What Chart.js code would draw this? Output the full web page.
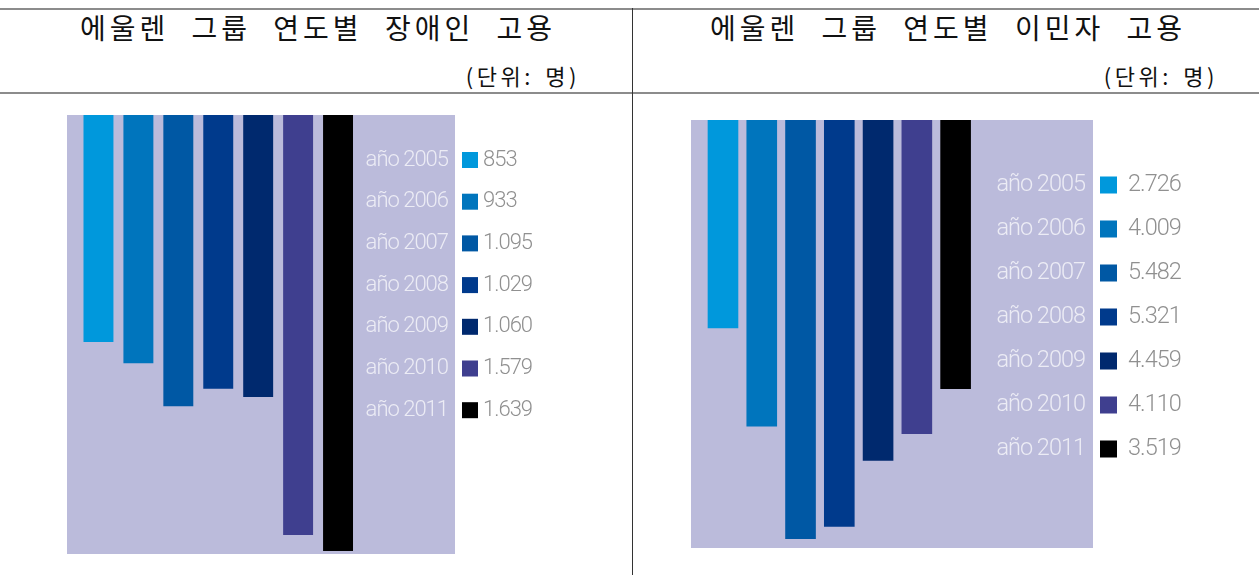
<!DOCTYPE html>
<html>
<head>
<meta charset="utf-8">
<script src="https://cdn.jsdelivr.net/npm/chart.js@4.4.1/dist/chart.umd.min.js"></script>
<style>
  body { margin: 0; background: #fff; width: 1259px; height: 575px; overflow: hidden; position: relative; font-family: "Noto Sans CJK KR", sans-serif; }
  .hline { position: absolute; left: 0; width: 1259px; height: 2px; background: #8c8c8c; }
  .vline { position: absolute; left: 632px; top: 8px; width: 1px; height: 567px; background: #333; }
  .title { position: absolute; top: 8px; font-size: 28px; line-height: 38px; letter-spacing: 4px; word-spacing: 12px; text-align: center; color: #111; }
  .unit { position: absolute; top: 61px; font-size: 22px; line-height: 28px; letter-spacing: 3.5px; word-spacing: 3px; text-align: right; color: #111; }
  canvas { position: absolute; top: 100px; }
</style>
</head>
<body>
<div class="hline" style="top:8px"></div>
<div class="hline" style="top:92px"></div>
<div class="vline"></div>

<div class="title" style="left:0;width:636px">에울렌 그룹 연도별 장애인 고용</div>
<div class="unit" style="left:0;width:580px">(단위: 명)</div>
<div class="title" style="left:633px;width:630px">에울렌 그룹 연도별 이민자 고용</div>
<div class="unit" style="left:633px;width:585px">(단위: 명)</div>

<canvas id="chartLeft" width="630" height="475" style="left:0"></canvas>
<canvas id="chartRight" width="625" height="475" style="left:634px"></canvas>

<script>
// years shown in both legends
const years = ['año 2005', 'año 2006', 'año 2007', 'año 2008', 'año 2009', 'año 2010', 'año 2011'];
// 장애인 고용 (persons)
const disabledValues = [853, 933, 1095, 1029, 1060, 1579, 1639];
// 이민자 고용 (persons)
const migrantValues = [2726, 4009, 5482, 5321, 4459, 4110, 3519];

const barColors = ['#0098dc', '#0075bd', '#0058a4', '#003a8c', '#00296e', '#3f3f8f', '#000000'];

// numbers are written with a dot for thousands, like the source
function fmt(v) {
  return v.toLocaleString('de-DE');
}

const panelPlugin = {
  id: 'panel',
  beforeDraw(chart, args, o) {
    const a = chart.chartArea;
    const ctx = chart.ctx;
    ctx.save();
    ctx.fillStyle = o.bg;
    ctx.fillRect(a.left - o.bgLeft, a.top, (a.right - a.left) + o.bgLeft + o.bgRight, a.bottom - a.top);
    ctx.restore();
  },
  afterDraw(chart, args, o) {
    const a = chart.chartArea;
    const ctx = chart.ctx;
    const ds = chart.data.datasets[0];
    ctx.save();
    ctx.font = '300 ' + o.fontSize + 'px Roboto, "Open Sans", sans-serif';
    ctx.letterSpacing = '-1px';
    ctx.textBaseline = 'middle';
    chart.data.labels.forEach(function (lab, i) {
      const y = a.top + o.rowTop + i * o.rowGap;
      ctx.fillStyle = o.labelColor;
      ctx.textAlign = 'right';
      ctx.fillText(lab, a.right + o.labelRight, y);
      ctx.fillStyle = ds.backgroundColor[i];
      ctx.fillRect(a.right + o.boxLeft, y - o.box / 2, o.box, o.box);
      ctx.fillStyle = o.valueColor;
      ctx.textAlign = 'left';
      ctx.fillText(fmt(ds.data[i]), a.right + o.valueLeft, y);
    });
    ctx.restore();
  }
};

function makeChart(id, values, yMax, pad, barPct, panel) {
  return new Chart(document.getElementById(id).getContext('2d'), {
    type: 'bar',
    data: {
      labels: years,
      datasets: [{
        data: values,
        backgroundColor: barColors,
        barPercentage: barPct,
        categoryPercentage: 1
      }]
    },
    options: {
      responsive: false,
      animation: false,
      layout: { padding: pad },
      scales: {
        x: { display: false },
        y: { display: false, reverse: true, min: 0, max: yMax }  // bars hang from the top
      },
      plugins: {
        legend: { display: false },
        tooltip: { enabled: false },
        panel: panel
      }
    },
    plugins: [panelPlugin]
  });
}

makeChart('chartLeft', disabledValues, 1650,
  { left: 78.5, right: 272, top: 15, bottom: 21 }, 0.75,
  { bg: '#bbbbdb', bgLeft: 11.5, bgRight: 97, fontSize: 22, rowTop: 45, rowGap: 41.7,
    labelRight: 90, boxLeft: 104, box: 16, valueLeft: 125,
    labelColor: '#ececf5', valueColor: '#909090' });

makeChart('chartRight', migrantValues, 5600,
  { left: 69.6, right: 284, top: 20, bottom: 27 }, 0.79,
  { bg: '#bbbbdb', bgLeft: 12.6, bgRight: 118, fontSize: 23.5, rowTop: 65, rowGap: 44,
    labelRight: 110, boxLeft: 125, box: 17, valueLeft: 153,
    labelColor: '#ececf5', valueColor: '#909090' });
</script>
</body>
</html>
